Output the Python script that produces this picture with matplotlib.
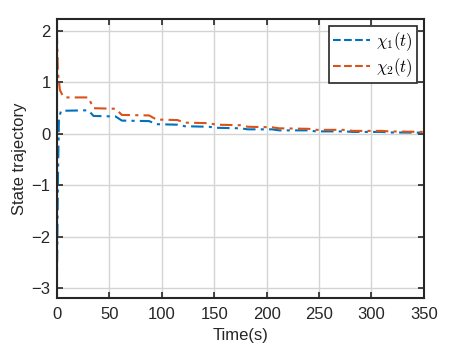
import matplotlib
matplotlib.use("Agg")
import matplotlib.pyplot as plt
import numpy as np

plt.rcParams['font.family'] = ['Liberation Sans', 'DejaVu Sans']
plt.rcParams['mathtext.fontset'] = 'cm'

# state chi_2 (orange)
t2 = [0, 1, 3, 6, 8, 30, 35, 56, 62, 88, 95, 115, 122, 145, 152, 175, 182,
      205, 212, 240, 247, 275, 282, 310, 317, 350]
x2 = [2.0, 1.2, 0.85, 0.73, 0.71, 0.71, 0.50, 0.49, 0.37, 0.36, 0.28, 0.27, 0.22,
      0.21, 0.18, 0.17, 0.14, 0.13, 0.11, 0.10, 0.08, 0.08, 0.06, 0.06, 0.05, 0.04]

# state chi_1 (blue)
t1 = [0, 1, 2, 4, 30, 35, 56, 62, 88, 95, 115, 122, 145, 152, 175, 182,
      205, 212, 240, 247, 275, 282, 310, 317, 350]
x1 = [-3.0, -1.0, 0.30, 0.45, 0.46, 0.35, 0.34, 0.26, 0.25, 0.19, 0.18, 0.15,
      0.14, 0.12, 0.11, 0.09, 0.09, 0.07, 0.07, 0.05, 0.05, 0.04, 0.04, 0.03, 0.025]

xticks = [0, 50, 100, 150, 200, 250, 300, 350]
yticks = [-3, -2, -1, 0, 1, 2]

fig = plt.figure(figsize=(4.51, 3.55), dpi=100)
ax = fig.add_axes([0.126, 0.160, 0.814, 0.786])

ax.plot(t1, x1, color='#0072BD', linestyle=(0, (6, 2.5, 1.5, 2.5)), linewidth=1.5,
        label=r'$\chi_1(t)$')
ax.plot(t2, x2, color='#D95319', linestyle=(0, (6, 2.5, 1.5, 2.5)), linewidth=1.5,
        label=r'$\chi_2(t)$')

ax.set_xlim(0, 350)
ax.set_ylim(-3.19, 2.23)
ax.set_xticks(xticks)
ax.set_yticks(yticks)
ax.grid(True, color='#d4d4d4', linewidth=1.0)
ax.set_axisbelow(True)
ax.tick_params(direction='in', top=True, right=True, labelsize=12, length=4,
               width=1.2, color='#262626', labelcolor='#262626')
ax.tick_params(axis='x', pad=6.5)
ax.tick_params(axis='y', pad=4.5)
for s in ax.spines.values():
    s.set_linewidth(1.5)
    s.set_color('#262626')

ax.set_xlabel('Time(s)', fontsize=12, color='#262626', labelpad=4)
ax.set_ylabel('State trajectory', fontsize=12, color='#262626', labelpad=3)

leg = ax.legend(loc='upper right', fontsize=12, fancybox=False, framealpha=1,
                edgecolor='#262626', handlelength=2.2, borderpad=0.25,
                labelspacing=0.2, handletextpad=0.4, borderaxespad=0.4)
leg.get_frame().set_linewidth(1.2)
for h in leg.get_lines():
    h.set_linestyle('--')

fig.savefig('out.png', dpi=100)
